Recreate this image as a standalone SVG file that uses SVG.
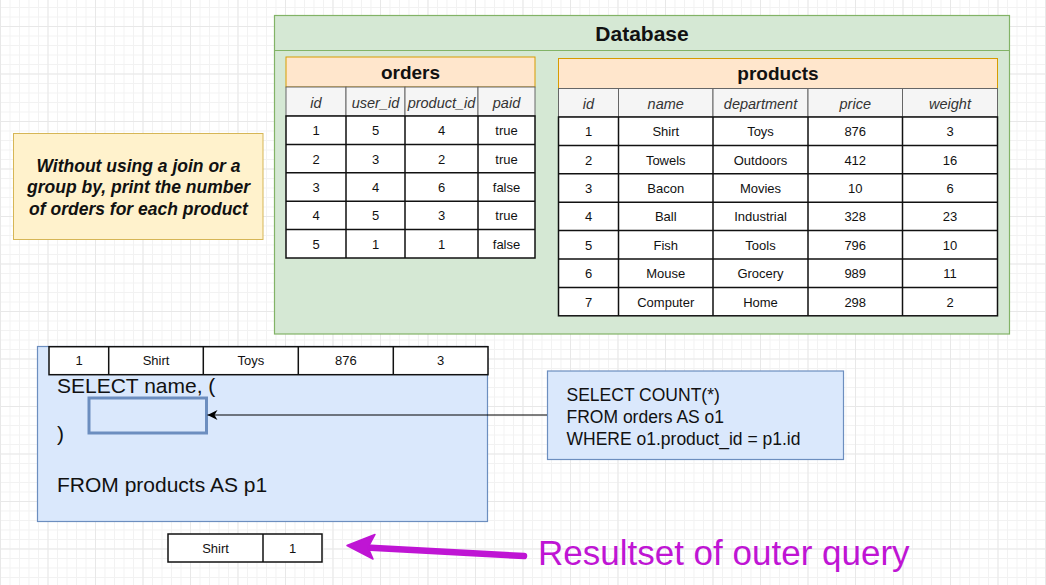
<svg xmlns="http://www.w3.org/2000/svg" width="1046" height="585" viewBox="0 0 1046 585">
<style>
.t{font-family:"Liberation Sans",Arial,sans-serif;fill:#111}
.c{font-size:13px;text-anchor:middle}
.h{font-size:14.5px;font-style:italic;text-anchor:middle;fill:#333}
.ttl{font-size:19px;font-weight:bold;text-anchor:middle}
.cell{fill:#fff;stroke:#111;stroke-width:1.5}
.hdr{fill:#f5f5f5;stroke:#666;stroke-width:1}
.orng{fill:#ffe6cc;stroke:#d79b00;stroke-width:1}
.sql{font-size:21px}
.q{font-size:17.5px}
</style>
<defs>
<pattern id="minor" width="9.5" height="9.5" patternUnits="userSpaceOnUse" x="0" y="7">
<path d="M0.5 0V9.5M0 0.5H9.5" fill="none" stroke="#f2f2f2" stroke-width="1"/>
</pattern>
<pattern id="major" width="47.5" height="47.5" patternUnits="userSpaceOnUse" x="0" y="26">
<path d="M0.5 0V47.5M0 0.5H47.5" fill="none" stroke="#e8e8e8" stroke-width="1"/>
</pattern>
<marker id="arr" markerWidth="12" markerHeight="10" refX="10" refY="5" orient="auto" markerUnits="userSpaceOnUse">
<path d="M0 0L10 5L0 10L3 5Z" fill="#000"/>
</marker>
</defs>
<rect width="1046" height="585" fill="#fff"/>
<rect width="1046" height="585" fill="url(#minor)"/>
<rect width="1046" height="585" fill="url(#major)"/>

<g id="database">
<rect x="274.5" y="15.5" width="735" height="318.5" fill="#d5e8d4" stroke="#82b366" stroke-width="1.2"/>
<line x1="274.5" y1="50.5" x2="1009.5" y2="50.5" stroke="#82b366" stroke-width="1.2"/>
<text class="t" x="642" y="41" font-size="21" font-weight="bold" text-anchor="middle">Database</text>
</g>

<g id="orders">
<rect class="orng" x="286" y="57" width="249" height="30"/>
<text class="t ttl" x="410.5" y="78.5">orders</text>
<rect class="hdr" x="286" y="87" width="60" height="29"/>
<rect class="hdr" x="346" y="87" width="59" height="29"/>
<rect class="hdr" x="405" y="87" width="73" height="29"/>
<rect class="hdr" x="478" y="87" width="57" height="29"/>
<text class="t h" x="316" y="108">id</text>
<text class="t h" x="375.5" y="108">user_id</text>
<text class="t h" x="441.5" y="108">product_id</text>
<text class="t h" x="506.5" y="108">paid</text>
<rect class="cell" x="286" y="116" width="249" height="142"/>
<path d="M286 144.4H535M286 172.8H535M286 201.2H535M286 229.6H535M346 116V258M405 116V258M478 116V258" stroke="#111" stroke-width="1.5" fill="none"/>
<g class="t c">
<text x="316" y="135.2">1</text><text x="375.5" y="135.2">5</text><text x="441.5" y="135.2">4</text><text x="506.5" y="135.2">true</text>
<text x="316" y="163.6">2</text><text x="375.5" y="163.6">3</text><text x="441.5" y="163.6">2</text><text x="506.5" y="163.6">true</text>
<text x="316" y="192">3</text><text x="375.5" y="192">4</text><text x="441.5" y="192">6</text><text x="506.5" y="192">false</text>
<text x="316" y="220.4">4</text><text x="375.5" y="220.4">5</text><text x="441.5" y="220.4">3</text><text x="506.5" y="220.4">true</text>
<text x="316" y="248.8">5</text><text x="375.5" y="248.8">1</text><text x="441.5" y="248.8">1</text><text x="506.5" y="248.8">false</text>
</g>
</g>

<g id="products">
<rect class="orng" x="558.5" y="58.5" width="439" height="30"/>
<text class="t ttl" x="778" y="79.75">products</text>
<rect class="hdr" x="558.5" y="88.5" width="60" height="28.5"/>
<rect class="hdr" x="618.5" y="88.5" width="94.5" height="28.5"/>
<rect class="hdr" x="713" y="88.5" width="95" height="28.5"/>
<rect class="hdr" x="808" y="88.5" width="94.5" height="28.5"/>
<rect class="hdr" x="902.5" y="88.5" width="95" height="28.5"/>
<text class="t h" x="588.5" y="109">id</text>
<text class="t h" x="665.75" y="109">name</text>
<text class="t h" x="760.5" y="109">department</text>
<text class="t h" x="855.25" y="109">price</text>
<text class="t h" x="950" y="109">weight</text>
<rect class="cell" x="558.5" y="117" width="439" height="198.8"/>
<path d="M558.5 145.4H997.5M558.5 173.8H997.5M558.5 202.2H997.5M558.5 230.6H997.5M558.5 259H997.5M558.5 287.4H997.5M618.5 117V315.8M713 117V315.8M808 117V315.8M902.5 117V315.8" stroke="#111" stroke-width="1.5" fill="none"/>
<g class="t c">
<text x="588.5" y="136.2">1</text><text x="665.75" y="136.2">Shirt</text><text x="760.5" y="136.2">Toys</text><text x="855.25" y="136.2">876</text><text x="950" y="136.2">3</text>
<text x="588.5" y="164.6">2</text><text x="665.75" y="164.6">Towels</text><text x="760.5" y="164.6">Outdoors</text><text x="855.25" y="164.6">412</text><text x="950" y="164.6">16</text>
<text x="588.5" y="193">3</text><text x="665.75" y="193">Bacon</text><text x="760.5" y="193">Movies</text><text x="855.25" y="193">10</text><text x="950" y="193">6</text>
<text x="588.5" y="221.4">4</text><text x="665.75" y="221.4">Ball</text><text x="760.5" y="221.4">Industrial</text><text x="855.25" y="221.4">328</text><text x="950" y="221.4">23</text>
<text x="588.5" y="249.8">5</text><text x="665.75" y="249.8">Fish</text><text x="760.5" y="249.8">Tools</text><text x="855.25" y="249.8">796</text><text x="950" y="249.8">10</text>
<text x="588.5" y="278.2">6</text><text x="665.75" y="278.2">Mouse</text><text x="760.5" y="278.2">Grocery</text><text x="855.25" y="278.2">989</text><text x="950" y="278.2">11</text>
<text x="588.5" y="306.6">7</text><text x="665.75" y="306.6">Computer</text><text x="760.5" y="306.6">Home</text><text x="855.25" y="306.6">298</text><text x="950" y="306.6">2</text>
</g>
</g>

<g id="note">
<rect x="13.5" y="133.5" width="249.5" height="106" fill="#fff2cc" stroke="#d6b656" stroke-width="1"/>
<g class="t" font-size="17.5" font-weight="bold" font-style="italic" text-anchor="middle">
<text x="138.5" y="171.5">Without using a join or a</text>
<text x="138.5" y="193">group by, print the number</text>
<text x="138.5" y="214.5">of orders for each product</text>
</g>
</g>

<g id="outer-query">
<rect x="37.5" y="346.5" width="450" height="175" fill="#dae8fc" stroke="#6c8ebf" stroke-width="1.2"/>
<text class="t sql" x="57" y="393">SELECT name, (</text>
<text class="t sql" x="57" y="441">)</text>
<text class="t sql" x="57" y="492">FROM products AS p1</text>
</g>

<g id="outer-row">
<rect class="cell" x="49" y="346.7" width="439" height="28"/>
<path d="M108.7 346.7V374.7M203.3 346.7V374.7M298.3 346.7V374.7M393.3 346.7V374.7" stroke="#111" stroke-width="1.5"/>
<g class="t c">
<text x="79" y="365.2">1</text><text x="156" y="365.2">Shirt</text><text x="250.8" y="365.2">Toys</text><text x="345.8" y="365.2">876</text><text x="440.6" y="365.2">3</text>
</g>
</g>

<g id="inner-slot">
<rect x="89" y="398" width="117.5" height="35" fill="#dae8fc" stroke="#6c8ebf" stroke-width="3"/>
</g>

<g id="inner-query">
<rect x="547.5" y="371" width="296" height="88.5" fill="#dae8fc" stroke="#6c8ebf" stroke-width="1.2"/>
<text class="t q" x="566.5" y="400.5">SELECT COUNT(*)</text>
<text class="t q" x="566.5" y="422.5">FROM orders AS o1</text>
<text class="t q" x="566.5" y="444.5">WHERE o1.product_id = p1.id</text>
</g>

<g id="result-row">
<rect class="cell" x="168" y="534" width="154" height="28"/>
<line x1="263" y1="534" x2="263" y2="562" stroke="#111" stroke-width="1.5"/>
<text class="t c" x="215.5" y="552.5">Shirt</text>
<text class="t c" x="292.5" y="552.5">1</text>
</g>

<g id="connectors">
<line x1="547" y1="415" x2="207.5" y2="415" stroke="#000" stroke-width="1.2" marker-end="url(#arr)"/>
<path d="M524 556L366 547.5" stroke="#bf15d4" stroke-width="6.5" stroke-linecap="round" fill="none"/>
<path d="M347 545.5L375 534.5L368 547.5L373 559Z" fill="#bf15d4" stroke="#bf15d4" stroke-width="1.5" stroke-linejoin="round"/>
</g>

<g id="label">
<text x="538" y="565" font-family="'Liberation Sans',Arial,sans-serif" font-size="35" fill="#bf15d4">Resultset of outer query</text>
</g>
</svg>
